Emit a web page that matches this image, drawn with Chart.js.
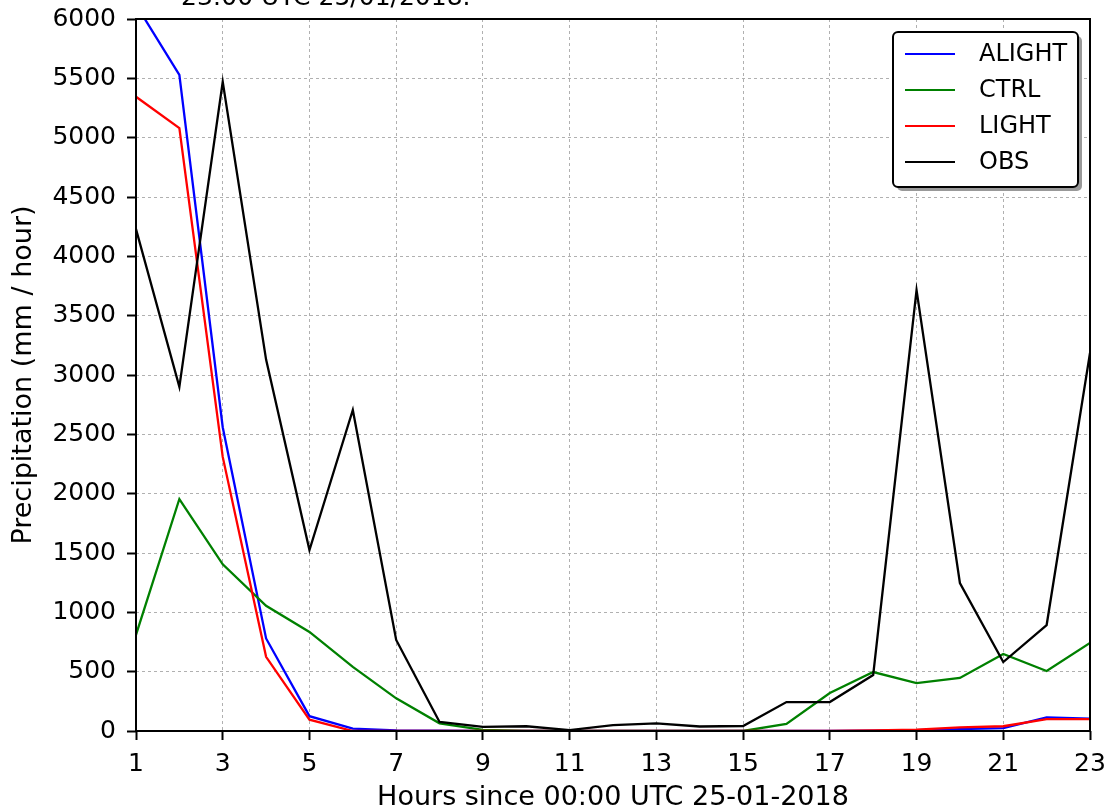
<!DOCTYPE html>
<html>
<head>
<meta charset="utf-8">
<script src="https://cdn.jsdelivr.net/npm/chart.js@4.4.0/dist/chart.umd.min.js"></script>
<style>
  html, body { margin: 0; padding: 0; background: #fff; }
  canvas { display: block; }
</style>
</head>
<body>
<canvas id="precipChart" width="1111" height="812"></canvas>
<script>
// Hourly precipitation
const hours = [1, 2, 3, 4, 5, 6, 7, 8, 9, 10, 11, 12, 13, 14, 15, 16, 17, 18, 19, 20, 21, 22, 23];
const alight = [6120, 5530, 2560, 780, 125, 20, 5, 2, 0, 0, 0, 0, 0, 0, 0, 0, 0, 3, 8, 15, 25, 115, 105];
const ctrl = [810, 1955, 1405, 1055, 835, 540, 275, 65, 10, 0, 0, 0, 0, 0, 0, 60, 320, 497, 404, 447, 649, 506, 742];
const light = [5345, 5080, 2310, 625, 95, 0, 0, 0, 0, 0, 0, 0, 0, 0, 0, 0, 0, 5, 12, 30, 40, 100, 100];
const obs = [4230, 2900, 5470, 3130, 1525, 2705, 767, 76, 34, 40, 8, 50, 65, 38, 42, 244, 244, 472, 3716, 1247, 581, 893, 3185];
const titleLine = '23:00 UTC 25/01/2018.';

const FONT = 'DejaVu Sans';
const pts = arr => hours.map((h, i) => ({ x: h, y: arr[i] }));

// Plot frame, clipped title line and the boxed legend
const decor = {
  id: 'decor',
  afterDraw(chart) {
    const { ctx, chartArea: a } = chart;
    ctx.save();
    ctx.strokeStyle = '#000';
    ctx.lineWidth = 2;
    ctx.strokeRect(a.left, a.top, a.right - a.left, a.bottom - a.top);

    ctx.fillStyle = '#000';
    ctx.font = '25px "' + FONT + '"';
    ctx.textBaseline = 'alphabetic';
    ctx.textAlign = 'left';
    ctx.fillText(titleLine, 181, 5);

    // legend
    const bx = 893, by = 32, bw = 185, bh = 155, r = 5;
    const box = (x, y) => {
      ctx.beginPath();
      ctx.roundRect(x, y, bw, bh, r);
    };
    ctx.fillStyle = '#999';
    box(bx + 4, by + 4);
    ctx.fill();
    ctx.fillStyle = '#fff';
    box(bx, by);
    ctx.fill();
    ctx.lineWidth = 2;
    ctx.strokeStyle = '#000';
    box(bx, by);
    ctx.stroke();

    ctx.font = '24px "' + FONT + '"';
    ctx.textBaseline = 'middle';
    chart.data.datasets.forEach((ds, i) => {
      const y = 54 + i * 36;
      ctx.strokeStyle = ds.borderColor;
      ctx.lineWidth = 2;
      ctx.beginPath();
      ctx.moveTo(905, y);
      ctx.lineTo(955, y);
      ctx.stroke();
      ctx.fillStyle = '#000';
      ctx.fillText(ds.label, 979, y + 1);
    });
    ctx.restore();
  }
};

const lineSet = (label, data, color, order) => ({
  label: label,
  data: pts(data),
  borderColor: color,
  backgroundColor: color,
  borderWidth: 2.3,
  pointRadius: 0,
  tension: 0,
  fill: false,
  order: order
});

new Chart(document.getElementById('precipChart'), {
  type: 'line',
  data: {
    datasets: [
      lineSet('ALIGHT', alight, '#0000ff', 3),
      lineSet('CTRL', ctrl, '#008000', 2),
      lineSet('LIGHT', light, '#ff0000', 1),
      lineSet('OBS', obs, '#000000', 0)
    ]
  },
  options: {
    responsive: false,
    animation: false,
    layout: { padding: { top: 19, right: 21, left: 0, bottom: 0 } },
    plugins: {
      legend: { display: false },
      tooltip: { enabled: false }
    },
    scales: {
      x: {
        type: 'linear',
        min: 1,
        max: 23,
        afterFit: s => { s.height = 81; s.paddingLeft = 0; s.paddingRight = 0; },
        ticks: { stepSize: 2, color: '#000', padding: 9, font: { family: FONT, size: 25 }, callback: v => String(v) },
        grid: { color: '#b0b0b0', lineWidth: 1, tickColor: '#000', tickWidth: 2, tickLength: 9 },
        border: { display: false, dash: [3, 3] },
        title: {
          display: true,
          text: 'Hours since 00:00 UTC 25-01-2018',
          color: '#000',
          padding: { top: 0, bottom: 1 },
          font: { family: FONT, size: 27, lineHeight: 1 }
        }
      },
      y: {
        min: 0,
        max: 6000,
        afterFit: s => { s.width = 136; s.paddingTop = 0; s.paddingBottom = 0; },
        ticks: { stepSize: 500, color: '#000', padding: 11, font: { family: FONT, size: 25 }, callback: v => String(v) },
        grid: { color: '#b0b0b0', lineWidth: 1, tickColor: '#000', tickWidth: 2, tickLength: 9 },
        border: { display: false, dash: [3, 3] },
        title: {
          display: true,
          text: 'Precipitation (mm / hour)',
          color: '#000',
          padding: { top: 10, bottom: 0 },
          font: { family: FONT, size: 27, lineHeight: 1 }
        }
      }
    }
  },
  plugins: [decor]
});
</script>
</body>
</html>
